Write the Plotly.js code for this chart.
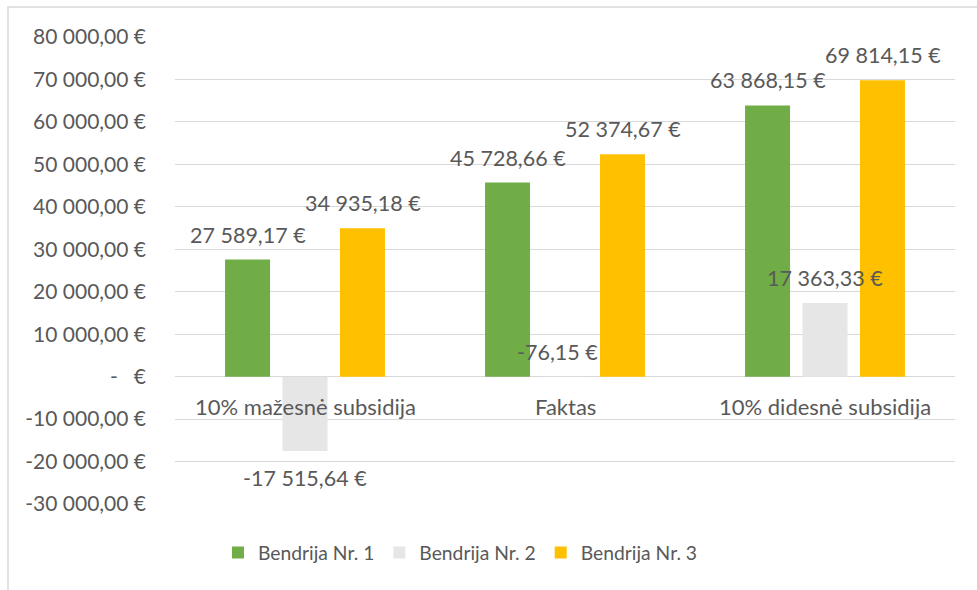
<!DOCTYPE html>
<html>
<head>
<meta charset="utf-8">
<script src="https://cdn.plot.ly/plotly-3.0.1.min.js"></script>
<style>
html,body{margin:0;padding:0;background:#fff;}
#chart{width:977px;height:590px;}
</style>
</head>
<body>
<div id="chart"></div>
<script>
const categories = ["10% mažesnė subsidija", "Faktas", "10% didesnė subsidija"];
const seriesNames = ["Bendrija Nr. 1", "Bendrija Nr. 2", "Bendrija Nr. 3"];
const bendrija1 = [27589.17, 45728.66, 63868.15];
const bendrija2 = [-17515.64, -76.15, 17363.33];
const bendrija3 = [34935.18, 52374.67, 69814.15];
const tickValues = [-30000, -20000, -10000, 0, 10000, 20000, 30000, 40000, 50000, 60000, 70000, 80000];

const colors = ["#70AD47", "#E7E6E6", "#FFC000"];
const txt = "#595959";
const FONT = "Lato, 'Open Sans', sans-serif";

function fmt(v) {
  const neg = v < 0;
  const parts = Math.abs(v).toFixed(2).split(".");
  const intp = parts[0].replace(/\B(?=(\d{3})+(?!\d))/g, " ");
  return (neg ? "-" : "") + intp + "," + parts[1] + " €";
}
function tickFmt(v) {
  if (v === 0) return "-\u00a0\u00a0\u00a0€";
  return fmt(v);
}

const allSeries = [bendrija1, bendrija2, bendrija3];
const traces = allSeries.map((vals, i) => ({
  type: "bar",
  name: seriesNames[i],
  x: categories,
  y: vals,
  marker: {color: colors[i]},
  hoverinfo: "none"
}));

const slotPx = 57.5;
const annotations = [];
allSeries.forEach((vals, i) => {
  vals.forEach((v, j) => {
    const below = v < -1000;
    annotations.push({
      x: categories[j], y: v, xref: "x", yref: "y",
      text: fmt(v), showarrow: false,
      xshift: (i - 1) * slotPx + ((v < 0 && !below) ? -8 : 0),
      yshift: below ? -27 : 25,
      yanchor: "middle", xanchor: "center",
      font: {family: FONT, size: 21.5, color: txt}
    });
  });
});
categories.forEach((c) => {
  annotations.push({
    x: c, y: 0, xref: "x", yref: "y",
    text: c, showarrow: false, yshift: -30, yanchor: "middle",
    font: {family: FONT, size: 22, color: txt}
  });
});

const layout = {
  width: 977, height: 590,
  margin: {l: 175, r: 22, t: 37, b: 86},
  paper_bgcolor: "#fff", plot_bgcolor: "#fff",
  barmode: "group",
  bargap: 0.337,
  bargroupgap: 0.217,
  font: {family: FONT, size: 19, color: txt},
  xaxis: {showticklabels: false, showgrid: false, zeroline: false, showline: false, ticks: ""},
  yaxis: {
    range: [-30000, 80000],
    tickvals: tickValues,
    ticktext: tickValues.map(tickFmt),
    showgrid: true, gridcolor: "#D9D9D9", gridwidth: 1,
    zeroline: true, zerolinecolor: "#D9D9D9", zerolinewidth: 1,
    showline: false, ticks: "",
    ticklabelstandoff: 28,
    tickfont: {family: FONT, size: 21, color: txt}
  },
  showlegend: true,
  legend: {
    orientation: "h", x: 0.366, xanchor: "center", y: -0.105, yanchor: "middle",
    font: {family: FONT, size: 19.3, color: txt},
    itemwidth: 30, traceorder: "normal"
  },
  annotations: annotations,
  shapes: [{
    type: "rect", xref: "paper", yref: "paper",
    x0: (8 - 175) / 780, x1: 1.1, y0: -0.2, y1: 1 + 30 / 467,
    line: {color: "#D9D9D9", width: 1.5}, fillcolor: "rgba(0,0,0,0)"
  }]
};

Plotly.newPlot("chart", traces, layout, {displayModeBar: false, staticPlot: true});
</script>
</body>
</html>
